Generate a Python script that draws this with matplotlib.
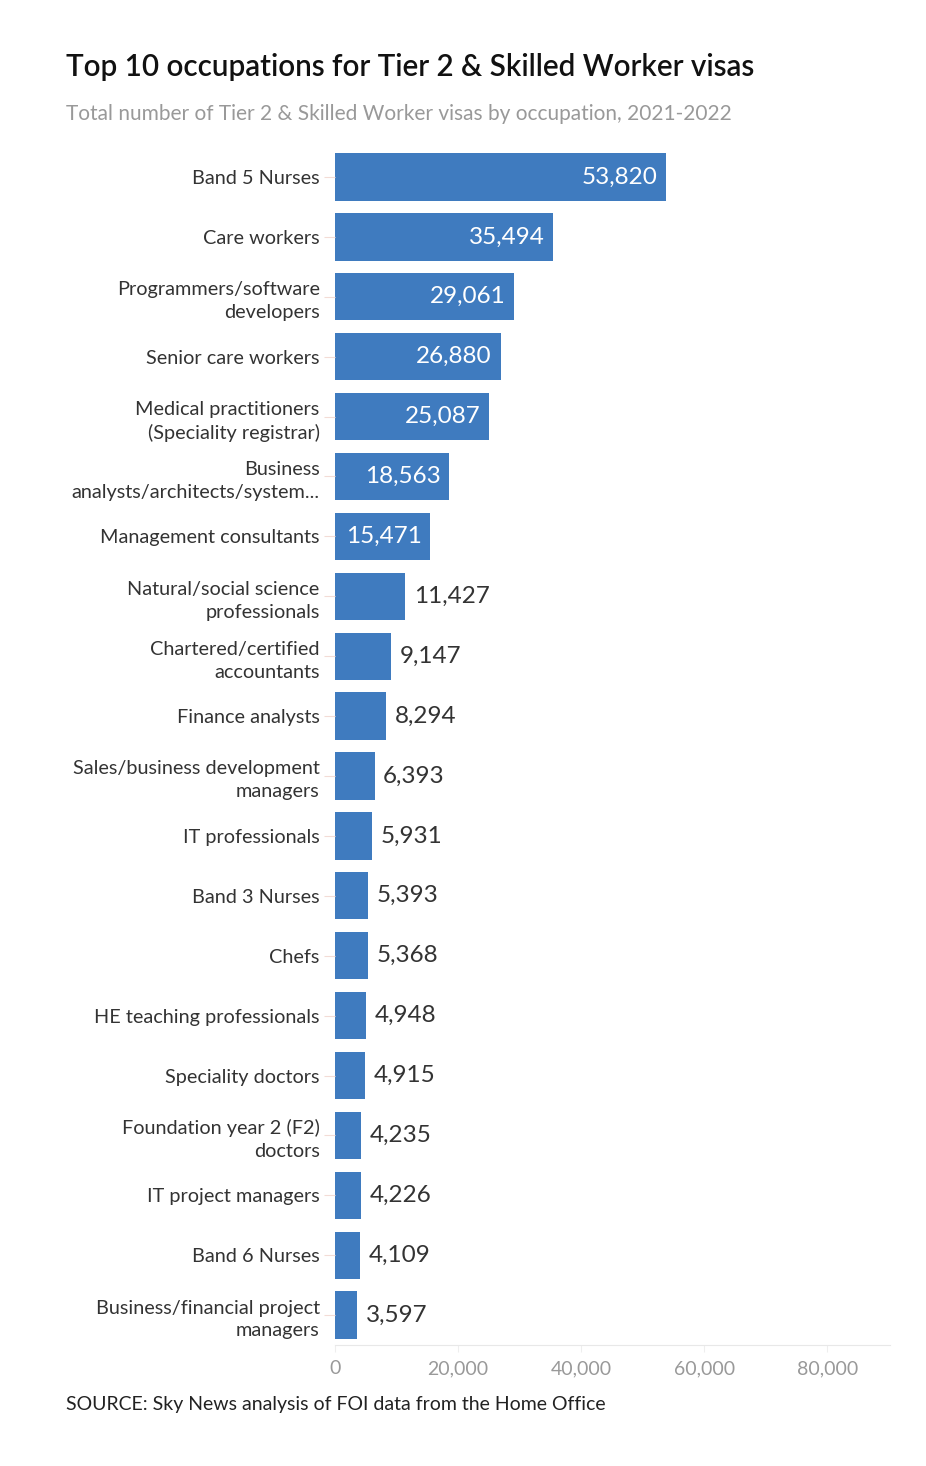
import matplotlib.pyplot as plt
from matplotlib.ticker import FuncFormatter

plt.rcParams['font.family'] = ['Lato', 'DejaVu Sans']

# ------------------------------
# Data
# ------------------------------
occupations = [
    'Band 5 Nurses', 'Care workers', 'Programmers/software\ndevelopers',
    'Senior care workers', 'Medical practitioners\n(Speciality registrar)',
    'Business\nanalysts/architects/system...', 'Management consultants',
    'Natural/social science\nprofessionals', 'Chartered/certified\naccountants',
    'Finance analysts', 'Sales/business development\nmanagers', 'IT professionals',
    'Band 3 Nurses', 'Chefs', 'HE teaching professionals', 'Speciality doctors',
    'Foundation year 2 (F2)\ndoctors', 'IT project managers', 'Band 6 Nurses',
    'Business/financial project\nmanagers',
]
visas = [53820, 35494, 29061, 26880, 25087, 18563, 15471, 11427, 9147, 8294,
         6393, 5931, 5393, 5368, 4948, 4915, 4235, 4226, 4109, 3597]
x_ticks = [0, 20000, 40000, 60000, 80000]

bar_color = '#3f7bbf'
text_color = '#333333'

fig = plt.figure(figsize=(9.26, 14.66), dpi=100)
ax = fig.add_axes([0.362, 0.0825, 0.599, 0.8172])

pos = list(range(len(visas)))
ax.barh(pos, visas, height=0.79, color=bar_color)
ax.set_ylim(len(visas) - 0.5, -0.5)
ax.set_xlim(0, 90200)

for p, v in zip(pos, visas):
    label = f'{v:,}'
    if v > 15000:
        ax.text(v - 1400, p, label, ha='right', va='center', color='white', fontsize=17.5)
    else:
        ax.text(v + 1400, p, label, ha='left', va='center', color=text_color, fontsize=17.5)

ax.set_yticks(pos)
ax.set_yticklabels(occupations, fontsize=14.3, color=text_color, linespacing=1.42)
ax.set_xticks(x_ticks)
ax.xaxis.set_major_formatter(FuncFormatter(lambda x, _: f'{int(x):,}'))
ax.tick_params(axis='x', labelsize=14, labelcolor='#999999', color='#eeeeee',
               length=5, pad=6)
ax.tick_params(axis='y', color='#f3dcd6', length=8, pad=8)
for t in ax.get_yticklabels():
    t.set_x(0.012)

for s in ['top', 'right', 'left']:
    ax.spines[s].set_visible(False)
ax.spines['bottom'].set_color('#e8e8e8')

fig.text(0.071, 0.954, 'Top 10 occupations for Tier 2 & Skilled Worker visas',
         fontsize=21.3, fontweight='semibold', color='#111111', va='center')
fig.text(0.071, 0.922, 'Total number of Tier 2 & Skilled Worker visas by occupation, 2021-2022',
         fontsize=15, color='#999999', va='center')
fig.text(0.071, 0.042, 'SOURCE: Sky News analysis of FOI data from the Home Office',
         fontsize=14, color='#222222', va='center')

fig.savefig('out.png', dpi=100)
